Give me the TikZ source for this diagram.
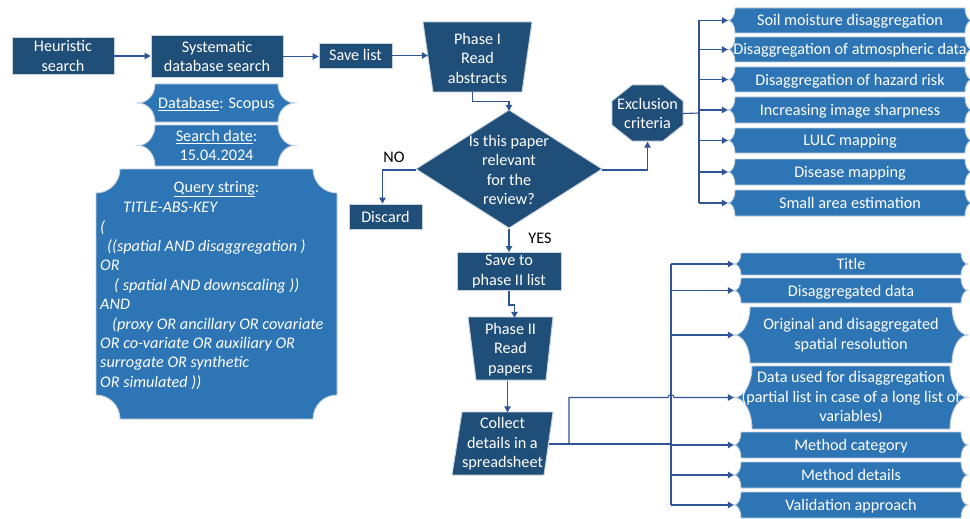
\documentclass[tikz,border=0pt]{standalone}
\usepackage{fontspec}
\setmainfont{Carlito}
\usetikzlibrary{arrows.meta,calc}
\definecolor{dk}{HTML}{1F4E79}
\definecolor{pl}{HTML}{2E75B6}
\definecolor{ln}{HTML}{2F5597}
\definecolor{ed}{HTML}{C9D3DD}
% plaque shape: L T R B rx ry
\newcommand\plq[6]{%
  \filldraw[plqs] (#1+#5,#2) -- (#3-#5,#2)
    arc[start angle=180,end angle=90,x radius=#5,y radius=#6]
    -- (#3,#4-#6) arc[start angle=270,end angle=180,x radius=#5,y radius=#6]
    -- (#1+#5,#4) arc[start angle=0,end angle=-90,x radius=#5,y radius=#6]
    -- (#1,#2+#6) arc[start angle=90,end angle=0,x radius=#5,y radius=#6]
    -- cycle;}
\newcommand\plqnode[9]{%
  \plq{#2}{#3}{#4}{#5}{#6}{#7}%
  \node[txt,#9,minimum width={#4-#2},minimum height={#5-#3}] (#1) at ({(#2+#4)/2},{(#3+#5)/2}) {#8};}
\begin{document}
\begin{tikzpicture}[x=1pt,y=-1pt,
  font=\fontsize{16.2}{19.5}\selectfont,
  box/.style={fill=dk,draw=ed,line width=0.9,text=white,align=center,inner sep=0pt},
  shp/.style={fill=dk,draw=ed,line width=0.9},
  plqs/.style={fill=pl,draw=ed,line width=0.9},
  txt/.style={text=white,align=center,inner sep=0pt},
  sl/.style={text height=13pt,text depth=2pt},
  ml/.style={},
  con/.style={draw=ln,line width=1.1},
  arr/.style={con,-{Triangle[length=6pt,width=6.5pt]}},
  lbl/.style={inner sep=0pt,text=black}]
\useasboundingbox[fill=white] (0,0) rectangle (970,519);

% --- left column ---
\node[box,minimum width=102,minimum height=37] (heur) at (63,56) {Heuristic\\search};
\node[box,minimum width=132,minimum height=42] (sys) at (217,56.5) {Systematic\\database search};
\node[box,sl,minimum width=73,minimum height=25] (save) at (355.5,55.5) {Save list};

\plqnode{db}{138}{84}{295}{122}{17}{19}{\underline{Database}: Scopus}{sl}
\plqnode{sd}{138}{125}{295}{166}{17}{20.5}{\underline{Search date}:\\15.04.2024}{ml}
\plq{96}{169}{337}{419}{24}{24}
\node[txt,anchor=base] (qt) at (216.5,192) {\underline{Query string}:};
\node[text=white,inner sep=0pt,align=left,anchor=north west,font=\fontsize{16.2}{19.4}\selectfont\itshape] (qb) at (100,202)
 {\hspace*{23pt}TITLE-ABS-KEY\\
  (\\
  \hspace*{7pt}((spatial AND disaggregation )\\
  OR\\
  \hspace*{14pt}( spatial AND downscaling ))\\
  AND\\
  \hspace*{12pt}(proxy OR ancillary OR covariate\\
  OR co-variate OR auxiliary OR\\
  surrogate OR synthetic\\
  OR simulated ))};

% --- centre column ---
\filldraw[shp] (423,22) -- (532,22) -- (522,92) -- (433,92) -- cycle;
\node[txt,minimum width=109,minimum height=70] (p1) at (477.5,58) {Phase I\\Read\\abstracts};

\filldraw[shp] (509,110) -- (602,169) -- (509,228) -- (416,169) -- cycle;
\node[txt,minimum width=186,minimum height=118] (dec) at (509,170) {Is this paper\\relevant\\for the\\review?};

\node[box,sl,minimum width=73,minimum height=25] (disc) at (385.5,216.5) {Discard};
\node[box,minimum width=104,minimum height=38] (sp2) at (509,271.5) {Save to\\phase II list};

\filldraw[shp] (468,317) -- (553,317) -- (546,380) -- (476,380) -- cycle;
\node[txt,minimum width=85,minimum height=63] (p2) at (510.5,349.5) {Phase II\\Read\\papers};

\filldraw[shp] (462,412) -- (553,412) -- (544,475) -- (452,475) -- cycle;
\node[txt,minimum width=101,minimum height=63] (col) at (502.5,444) {Collect\\details in a\\spreadsheet};

\filldraw[shp] (632,85) -- (663,85) -- (683,101) -- (683,125) -- (663,141) -- (632,141) -- (612,125) -- (612,101) -- cycle;
\node[txt,minimum width=71,minimum height=56] (exc) at (647.5,113.5) {Exclusion\\criteria};

\node[lbl,sl] (no) at (394,157) {NO};
\node[lbl,sl] (yes) at (540,238) {YES};

% --- exclusion list ---
\plqnode{e1}{728}{8}{972}{33}{7}{12.5}{Soil moisture disaggregation}{sl}
\plqnode{e2}{728}{37}{972}{62}{7}{12.5}{Disaggregation of atmospheric data}{sl}
\plqnode{e3}{728}{67}{972}{92}{7}{12.5}{Disaggregation of hazard risk}{sl}
\plqnode{e4}{728}{97}{972}{123}{7}{13}{Increasing image sharpness}{sl}
\plqnode{e5}{728}{128}{972}{153}{7}{12.5}{LULC mapping}{sl}
\plqnode{e6}{728}{159}{972}{185}{7}{13}{Disease mapping}{sl}
\plqnode{e7}{728}{190}{972}{216}{7}{13}{Small area estimation}{sl}

% --- details list ---
\plqnode{d1}{734}{253}{968}{275}{7}{11}{Title}{sl}
\plqnode{d2}{734}{278}{968}{303}{7}{12.5}{Disaggregated data}{sl}
\plqnode{d3}{734}{307}{968}{363}{16}{28}{Original and disaggregated\\spatial resolution}{ml}
\plqnode{d4}{734}{366}{968}{429}{18}{31.5}{Data used for disaggregation\\(partial list in case of a long list of\\variables)}{ml}
\plqnode{d5}{734}{432}{968}{458}{7}{13}{Method category}{sl}
\plqnode{d6}{734}{462}{968}{488}{7}{13}{Method details}{sl}
\plqnode{d7}{734}{492}{968}{518}{7}{13}{Validation approach}{sl}

% --- connectors ---
\draw[arr] (heur.east) -- (heur.east -| sys.west);
\draw[arr] (sys.east) -- (sys.east -| save.west);
\draw[arr] (save.east) -- ($(save.east -| p1.west)+(5,0)$);
\draw[arr] ($(p1.south)+(-5,-1)$) -- ++(0,9) -| (dec.north);
\draw[arr] (dec.west) -| ($(disc.north)+(-3,0)$);
\draw[arr] (dec.east) -| (exc.south);
\draw[arr] (dec.south) -- (sp2.north);
\draw[arr] (sp2.south) -- ++(0,14) -| ($(p2.north)+(4,0)$);
\draw[arr] ($(p2.south)+(-3,0)$) -- ++(0,15) -| ($(col.north)+(5,0)$);

\coordinate (b1) at (699,113);
\draw[con] (exc.east) -- (b1);
\draw[con] (b1 |- e1.west) -- (b1 |- e7.west);
\foreach \n in {e1,e2,e3,e4,e5,e6,e7} \draw[arr] (b1 |- \n.west) -- (\n.west);

\coordinate (bx) at (671,0);
\coordinate (jx) at (569,0);
\draw[con] ($(col.east)+(-4,0)$) -- (col.east -| bx);
\draw[con] (bx |- d1.west) -- (bx |- d7.west);
\foreach \n in {d1,d2,d3,d5,d6,d7} \draw[arr] (bx |- \n.west) -- (\n.west);
\draw[arr] (col.east -| jx) -- (jx |- d4.west) -- ($(bx |- d4.west)+(-3,0)$)
   arc[start angle=180,end angle=360,radius=3] -- (d4.west);
\end{tikzpicture}
\end{document}
